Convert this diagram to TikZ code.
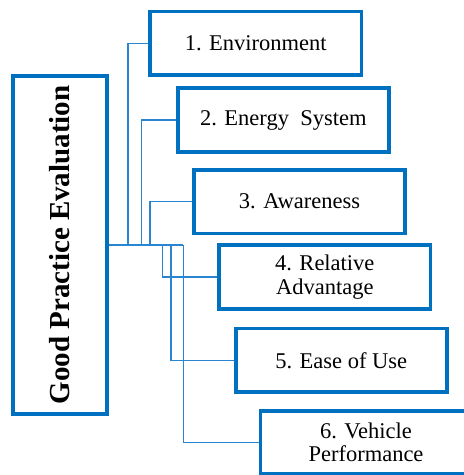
\documentclass[tikz,border=0pt]{standalone}
\usepackage{fontspec}
\setmainfont{Liberation Serif}
\definecolor{boxblue}{HTML}{0070C0}
\definecolor{lineblue}{HTML}{2A85D0}
\begin{document}
\begin{tikzpicture}[x=1pt,y=-1pt,
  itembox/.style={draw=boxblue,line width=3.8pt,minimum width=211.2pt,minimum height=63.6pt,
    inner sep=0pt,align=center,font=\fontsize{22.5}{23.5}\selectfont,fill=white},
  mainbox/.style={draw=boxblue,line width=3.8pt,minimum width=93.9pt,minimum height=338.2pt,
    inner sep=0pt,fill=white},
  conn/.style={draw=lineblue,line width=1.1pt}]
\useasboundingbox (0,0) rectangle (464,475);
\begin{scope}
\clip (0,0) rectangle (464,475);
\node[mainbox] (main) at (59.9,245) {};
\node[rotate=90,font=\fontsize{29}{30}\selectfont\bfseries] (title) at (59.9,245) {Good Practice Evaluation};
\node[itembox] (b1) at (255.8,43.3) {1. Environment};
\node[itembox] (b2) at (283.3,120) {2. Energy~\ System};
\node[itembox] (b3) at (299.5,201.7) {3. Awareness};
\node[itembox] (b4) at (324.8,277) {4. Relative\\Advantage};
\node[itembox] (b5) at (341.2,360.3) {5. Ease of Use};
\node[itembox] (b6) at (366,442.5) {6. Vehicle\\Performance};
\coordinate (j1) at (128,245);
\coordinate (j2) at (141.7,245);
\coordinate (j3) at (150,245);
\coordinate (j4) at (162.5,245);
\coordinate (j5) at (171,245);
\coordinate (j6) at (183.3,245);
\draw[conn] (main.east) -- (j6);
\draw[conn] (j1) |- (b1.west);
\draw[conn] (j2) |- (b2.west);
\draw[conn] (j3) |- (b3.west);
\draw[conn] (j4) |- (b4.west);
\draw[conn] (j5) |- (b5.west);
\draw[conn] (j6) |- (b6.west);
\end{scope}
\end{tikzpicture}
\end{document}
